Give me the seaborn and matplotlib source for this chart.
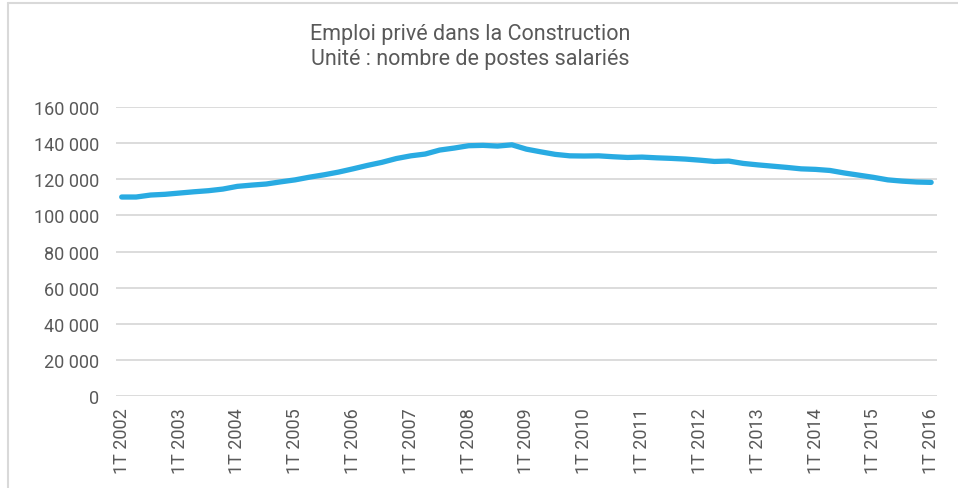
import seaborn as sns
import pandas as pd
import matplotlib.pyplot as plt
from matplotlib.lines import Line2D
from matplotlib.ticker import FuncFormatter

# emploi salarié privé, construction, trimestriel 1T 2002 - 1T 2016
annees = list(range(2002, 2017))
trimestres = [f'{q}T {a}' for a in annees for q in range(1, 5)][:57]
postes = [
    110200, 110200, 111300, 111700,
    112400, 113100, 113700, 114600,
    116100, 116800, 117400, 118600,
    119700, 121200, 122500, 124000,
    125800, 127700, 129400, 131500,
    133000, 134000, 136200, 137300,
    138600, 138800, 138400, 139100,
    136700, 135200, 133800, 133000,
    132900, 133000, 132500, 132100,
    132300, 131900, 131600, 131200,
    130600, 129900, 130100, 128800,
    128000, 127300, 126600, 125800,
    125500, 124900, 123500, 122300,
    121100, 119700, 119000, 118500,
    118300,
]
tick_labels = [f'1T {a}' for a in annees]

gris = '#595959'
grille = '#D9D9D9'
bleu = '#29ABE2'


def main():
    df = pd.DataFrame({'idx': range(len(postes)), 'trimestre': trimestres, 'postes': postes})

    sns.set_theme(style='white')
    plt.rcParams['font.family'] = ['Roboto', 'DejaVu Sans']

    fig = plt.figure(figsize=(9.58, 4.89), dpi=100)
    ax = fig.add_axes([0.121, 0.188, 0.857, 0.591])

    sns.lineplot(data=df, x='idx', y='postes', ax=ax, color=bleu, linewidth=3.8,
                 solid_capstyle='round')

    ax.set_ylim(0, 160000)
    ax.set_yticks(range(0, 160001, 20000))
    ax.yaxis.set_major_formatter(FuncFormatter(lambda v, p: f'{int(v):,}'.replace(',', ' ')))
    ax.set_xlim(-0.4, len(postes) - 1 + 0.4)
    ax.set_xticks(list(range(0, len(postes), 4)))
    ax.set_xticklabels(tick_labels, rotation=90)

    ax.grid(axis='y', color=grille, linewidth=1.3)
    ax.set_axisbelow(True)
    for s in ax.spines.values():
        s.set_visible(False)
    ax.tick_params(axis='both', length=0, labelsize=13, colors=gris)
    ax.tick_params(axis='y', pad=12)
    ax.tick_params(axis='x', pad=8)
    ax.set_xlabel('')
    ax.set_ylabel('')

    fig.text(0.491, 1 - 47 / 489, 'Emploi privé dans la Construction\nUnité : nombre de postes salariés',
             ha='center', va='center', fontsize=15.5, color=gris, linespacing=1.2)

    # cadre du graphique
    fig.add_artist(Line2D([8 / 958, 1], [1 - 3.5 / 489] * 2, color=grille, linewidth=1.5))
    fig.add_artist(Line2D([8 / 958] * 2, [0, 1 - 3.5 / 489], color=grille, linewidth=1.5))

    fig.savefig('out.png', dpi=100)


if __name__ == '__main__':
    main()
